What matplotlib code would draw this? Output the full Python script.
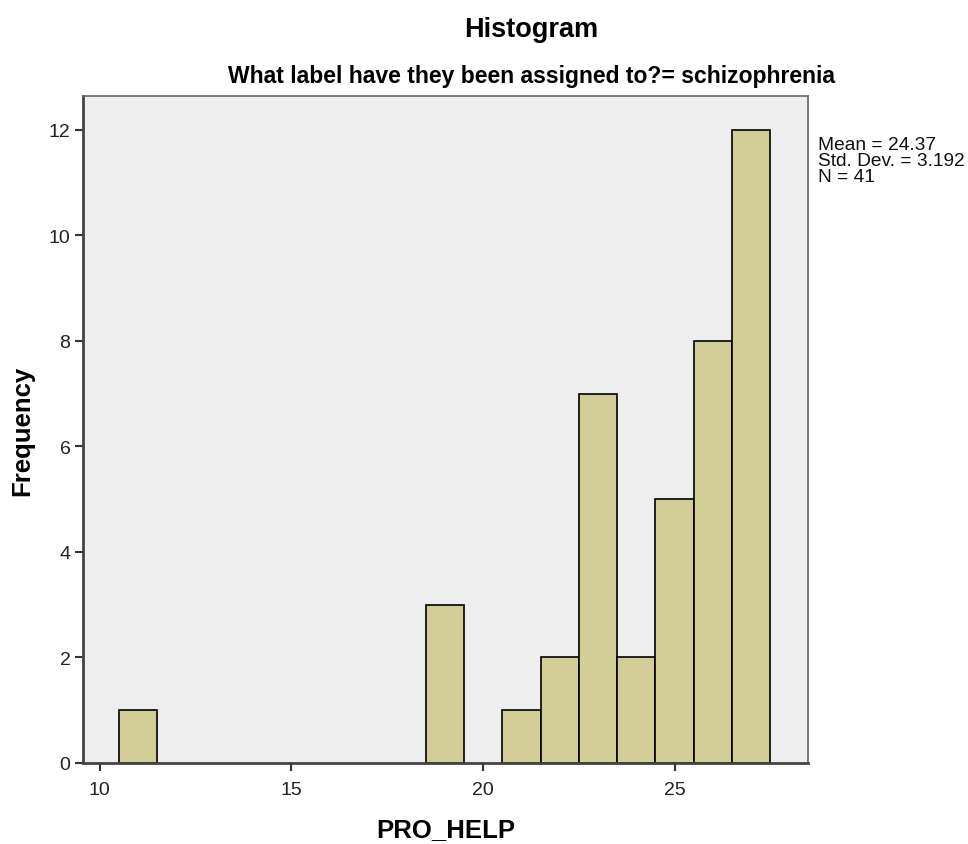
import matplotlib.pyplot as plt

# Bin centres and counts
bin_centers = [11, 19, 21, 22, 23, 24, 25, 26, 27]
counts = [1, 3, 1, 2, 7, 2, 5, 8, 12]
x_ticks = [10, 15, 20, 25]
y_ticks = [0, 2, 4, 6, 8, 10, 12]
stats_lines = ["Mean = 24.37", "Std. Dev. = 3.192", "N = 41"]

plt.rcParams['font.family'] = ['Liberation Sans', 'DejaVu Sans']

fig = plt.figure(figsize=(9.68, 8.45), dpi=100)
ax = fig.add_axes([0.0857, 0.0959, 0.749, 0.7893])
ax.set_facecolor('#eeeeee')

ax.bar(bin_centers, counts, width=1.0, color='#d3ce97', edgecolor='black', linewidth=1.2, zorder=2)

ax.set_xlim(9.56, 28.48)
ax.set_ylim(0, 12.64)
ax.set_xticks(x_ticks)
ax.set_yticks(y_ticks)
ax.tick_params(axis='both', direction='out', length=6, width=1.5, color='#333333',
               labelsize=14, labelcolor='#222222')
ax.tick_params(axis='x', pad=7)
ax.tick_params(axis='y', pad=3)

for side in ['left', 'bottom']:
    ax.spines[side].set_linewidth(2)
    ax.spines[side].set_color('#444444')
for side in ['top', 'right']:
    ax.spines[side].set_linewidth(1.2)
    ax.spines[side].set_color('#666666')

ax.set_xlabel('PRO_HELP', fontsize=18.5, fontweight='bold', labelpad=14)
fig.text(22 / 968, 0.49, 'Frequency', rotation=90, ha='center', va='center',
         fontsize=18.5, fontweight='bold')

fig.text(0.549, 0.965, 'Histogram', ha='center', va='center', fontsize=19.5, fontweight='bold')
fig.text(0.549, 0.910, 'What label have they been assigned to?= schizophrenia',
         ha='center', va='center', fontsize=16.5, fontweight='bold')

fig.text(0.845, 0.838, '\n'.join(stats_lines), ha='left', va='top', fontsize=13.8,
         linespacing=0.93, color='#111111')

plt.savefig('out.png', dpi=100)
